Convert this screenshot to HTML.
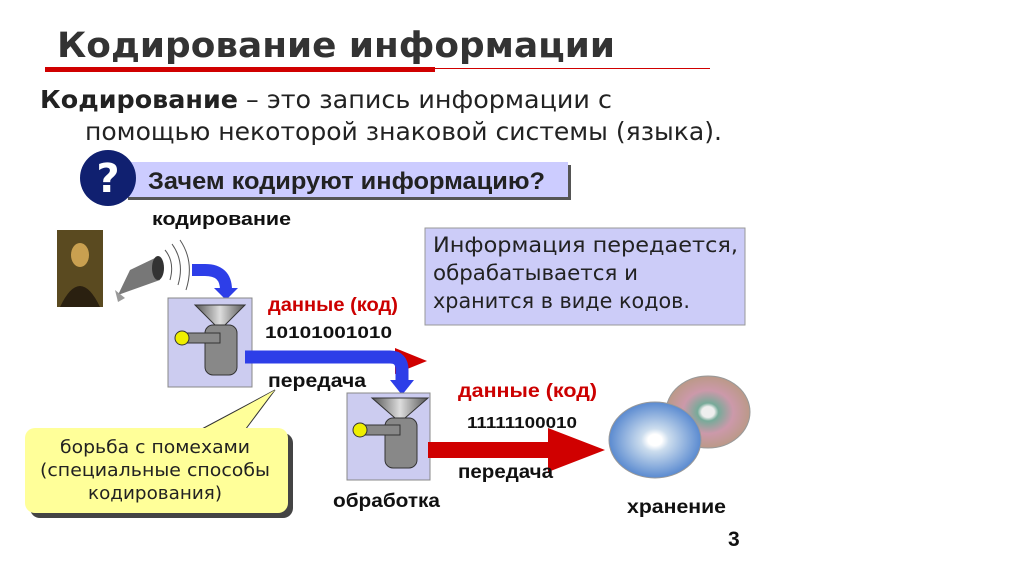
<!DOCTYPE html>
<html><head><meta charset="utf-8"><style>
html,body{margin:0;padding:0;background:#fff;}
svg text{font-family:"DejaVu Sans","Liberation Sans",sans-serif;}
svg text.a{font-family:"Liberation Sans",sans-serif;}
</style></head><body>
<svg width="1024" height="576" viewBox="0 0 1024 576" xmlns="http://www.w3.org/2000/svg">
<defs>
<linearGradient id="gm" x1="0" x2="1"><stop offset="0" stop-color="#555"/><stop offset=".5" stop-color="#ddd"/><stop offset="1" stop-color="#555"/></linearGradient>
<radialGradient id="d1" cx=".5" cy=".5" r=".5"><stop offset=".15" stop-color="#eee"/><stop offset=".25" stop-color="#7a9"/><stop offset=".6" stop-color="#c9a"/><stop offset="1" stop-color="#b98"/></radialGradient>
<radialGradient id="d2" cx=".5" cy=".5" r=".5"><stop offset=".15" stop-color="#fff"/><stop offset=".3" stop-color="#cde"/><stop offset="1" stop-color="#5a8ad0"/></radialGradient>
</defs>
<text x="57" y="57" font-size="35" font-weight="bold" fill="#333" textLength="558" lengthAdjust="spacingAndGlyphs">Кодирование информации</text>
<rect x="45" y="67" width="390" height="5" fill="#d00000"/>
<rect x="435" y="68" width="275" height="1" fill="#d00000"/>
<text x="40" y="108" font-size="25" fill="#222" textLength="572" lengthAdjust="spacingAndGlyphs"><tspan font-weight="bold">Кодирование</tspan> – это запись информации с</text>
<text x="85" y="140" font-size="25" fill="#222" textLength="637" lengthAdjust="spacingAndGlyphs">помощью некоторой знаковой системы (языка).</text>
<rect x="128" y="165" width="443" height="35" fill="#555"/>
<rect x="125" y="162" width="443" height="35" fill="#ccccff"/>
<circle cx="108" cy="178" r="28" fill="#102070"/>
<text x="108" y="192" font-size="40" font-weight="bold" fill="#fff" text-anchor="middle">?</text>
<text class="a" x="148" y="189" font-size="24" font-weight="bold" fill="#222" textLength="397" lengthAdjust="spacingAndGlyphs">Зачем кодируют информацию?</text>
<text class="a" x="152" y="225" font-size="18" font-weight="bold" fill="#111" textLength="139" lengthAdjust="spacingAndGlyphs">кодирование</text>
<rect x="57" y="230" width="46" height="77" fill="#5a4a20"/>
<ellipse cx="80" cy="255" rx="9" ry="12" fill="#c9a050"/>
<path d="M60 307 Q80 265 100 307Z" fill="#2a2010"/>
<path d="M118 295 L130 270 L155 258 L160 280 Z" fill="#777"/>
<ellipse cx="158" cy="268" rx="6" ry="12" fill="#333"/>
<path d="M115 290 L125 298 L118 302Z" fill="#999"/>
<path d="M165 250 Q175 262 170 280 M172 244 Q185 262 178 285 M180 240 Q195 262 186 290" stroke="#555" fill="none"/>
<rect x="425" y="228" width="320" height="97" fill="#ccccf8" stroke="#999"/>
<text x="433" y="252" font-size="21" fill="#222" textLength="305" lengthAdjust="spacingAndGlyphs">Информация передается,</text>
<text x="433" y="280" font-size="21" fill="#222" textLength="205" lengthAdjust="spacingAndGlyphs">обрабатывается и</text>
<text x="433" y="308" font-size="21" fill="#222" textLength="257" lengthAdjust="spacingAndGlyphs">хранится в виде кодов.</text>
<path d="M395 348 L427 361 L395 374Z" fill="#d00000"/>
<path d="M192 270 L205 270 Q226 270 226 290" stroke="#2d3ee8" stroke-width="12" fill="none"/>
<path d="M214 288 L238 288 L226 300Z" fill="#2d3ee8"/>
<g>
<rect x="168" y="298" width="84" height="89" fill="#ccccf0" stroke="#888"/>
<path d="M195 305 L245 305 L225 325 L215 325Z" fill="url(#gm)" stroke="#333"/>
<rect x="205" y="325" width="32" height="50" rx="8" fill="#888" stroke="#333"/>
<rect x="185" y="333" width="35" height="10" fill="#888" stroke="#333"/>
<circle cx="182" cy="338" r="7" fill="#ee0" stroke="#333"/>
</g>
<path d="M245 357 L390 357 Q402 357 402 370 L402 382" stroke="#2d3ee8" stroke-width="13" fill="none"/>
<path d="M390 380 L414 380 L402 395Z" fill="#2d3ee8"/>
<text class="a" x="268" y="311" font-size="19" font-weight="bold" fill="#cc0000" textLength="130" lengthAdjust="spacingAndGlyphs">данные (код)</text>
<text class="a" x="265" y="338" font-size="17" font-weight="bold" fill="#111" textLength="127" lengthAdjust="spacingAndGlyphs">10101001010</text>
<text class="a" x="268" y="387" font-size="19" font-weight="bold" fill="#111" textLength="98" lengthAdjust="spacingAndGlyphs">передача</text>
<g>
<rect x="347" y="393" width="83" height="87" fill="#ccccf0" stroke="#888"/>
<path d="M372 398 L428 398 L405 418 L395 418Z" fill="url(#gm)" stroke="#333"/>
<rect x="385" y="418" width="32" height="50" rx="8" fill="#888" stroke="#333"/>
<rect x="365" y="425" width="35" height="10" fill="#888" stroke="#333"/>
<circle cx="360" cy="430" r="7" fill="#ee0" stroke="#333"/>
</g>
<path d="M428 442 L548 442 L548 428 L605 450 L548 472 L548 458 L428 458Z" fill="#d00000"/>
<text class="a" x="458" y="397" font-size="19" font-weight="bold" fill="#cc0000" textLength="139" lengthAdjust="spacingAndGlyphs">данные (код)</text>
<text class="a" x="467" y="428" font-size="16" font-weight="bold" fill="#111" textLength="110" lengthAdjust="spacingAndGlyphs">11111100010</text>
<text class="a" x="458" y="478" font-size="19" font-weight="bold" fill="#111" textLength="95" lengthAdjust="spacingAndGlyphs">передача</text>
<text class="a" x="333" y="507" font-size="19" font-weight="bold" fill="#111" textLength="107" lengthAdjust="spacingAndGlyphs">обработка</text>
<text class="a" x="627" y="513" font-size="19" font-weight="bold" fill="#111" textLength="99" lengthAdjust="spacingAndGlyphs">хранение</text>
<text class="a" x="728" y="546" font-size="21" font-weight="bold" fill="#111">3</text>
<ellipse cx="708" cy="412" rx="42" ry="36" fill="url(#d1)" stroke="#999"/>
<ellipse cx="655" cy="440" rx="46" ry="38" fill="url(#d2)" stroke="#999"/>
<rect x="30" y="433" width="263" height="85" rx="10" fill="#444"/>
<path d="M200 430 L275 390 L245 430Z" fill="#ffff99" stroke="#333"/>
<rect x="25" y="428" width="263" height="85" rx="10" fill="#ffff99"/>
<path d="M205 429 L275 390 L240 429" fill="#ffff99"/>
<text x="155" y="453" font-size="18" fill="#222" text-anchor="middle" textLength="190" lengthAdjust="spacingAndGlyphs">борьба с помехами</text>
<text x="155" y="476" font-size="18" fill="#222" text-anchor="middle" textLength="230" lengthAdjust="spacingAndGlyphs">(специальные способы</text>
<text x="155" y="499" font-size="18" fill="#222" text-anchor="middle" textLength="134" lengthAdjust="spacingAndGlyphs">кодирования)</text>
</svg>
</body></html>
